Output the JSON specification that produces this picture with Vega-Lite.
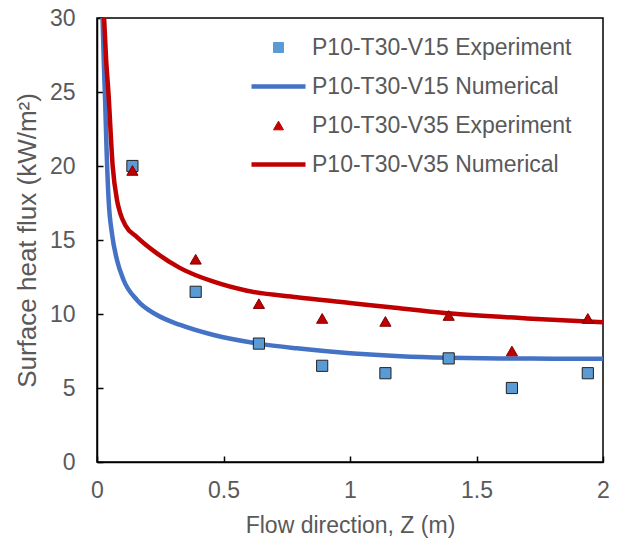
{
  "$schema": "https://vega.github.io/schema/vega-lite/v6.json",
  "autosize": {"type": "none"},
  "padding": {"left": 97, "top": 18, "right": 19, "bottom": 81},
  "width": 506,
  "height": 444,
  "background": "white",
  "config": {
    "font": "Liberation Sans",
    "view": {"stroke": "#000", "strokeWidth": 1.5},
    "axis": {
      "grid": false,
      "labelFlush": false,
      "labelOverlap": false,
      "domainColor": "#000",
      "domainWidth": 1.5,
      "tickColor": "#000",
      "tickWidth": 1.5,
      "tickSize": -6,
      "labelFont": "Liberation Sans",
      "labelFontSize": 23,
      "labelColor": "#595959",
      "titleFont": "Liberation Sans",
      "titleFontSize": 23,
      "titleFontWeight": "normal",
      "titleColor": "#595959"
    },
    "legend": {
      "labelFont": "Liberation Sans",
      "labelFontSize": 23,
      "labelColor": "#595959",
      "labelLimit": 400
    }
  },
  "data": {
    "values": [
      {"series": "P10-T30-V15 Experiment", "z": 0.14, "q": 20.0},
      {"series": "P10-T30-V15 Experiment", "z": 0.39, "q": 11.5},
      {"series": "P10-T30-V15 Experiment", "z": 0.64, "q": 8.0},
      {"series": "P10-T30-V15 Experiment", "z": 0.89, "q": 6.5},
      {"series": "P10-T30-V15 Experiment", "z": 1.14, "q": 6.0},
      {"series": "P10-T30-V15 Experiment", "z": 1.39, "q": 7.0},
      {"series": "P10-T30-V15 Experiment", "z": 1.64, "q": 5.0},
      {"series": "P10-T30-V15 Experiment", "z": 1.94, "q": 6.0},
      {"series": "P10-T30-V35 Experiment", "z": 0.14, "q": 19.7},
      {"series": "P10-T30-V35 Experiment", "z": 0.39, "q": 13.7},
      {"series": "P10-T30-V35 Experiment", "z": 0.64, "q": 10.7},
      {"series": "P10-T30-V35 Experiment", "z": 0.89, "q": 9.7},
      {"series": "P10-T30-V35 Experiment", "z": 1.14, "q": 9.5},
      {"series": "P10-T30-V35 Experiment", "z": 1.39, "q": 9.9},
      {"series": "P10-T30-V35 Experiment", "z": 1.64, "q": 7.5},
      {"series": "P10-T30-V35 Experiment", "z": 1.94, "q": 9.7},
      {"series": "P10-T30-V15 Numerical", "z": 0.022, "q": 30},
      {"series": "P10-T30-V15 Numerical", "z": 0.027, "q": 27},
      {"series": "P10-T30-V15 Numerical", "z": 0.032, "q": 24.5},
      {"series": "P10-T30-V15 Numerical", "z": 0.038, "q": 21},
      {"series": "P10-T30-V15 Numerical", "z": 0.046, "q": 17.7},
      {"series": "P10-T30-V15 Numerical", "z": 0.059, "q": 15.45},
      {"series": "P10-T30-V15 Numerical", "z": 0.079, "q": 13.65},
      {"series": "P10-T30-V15 Numerical", "z": 0.105, "q": 12.3},
      {"series": "P10-T30-V15 Numerical", "z": 0.158, "q": 10.95},
      {"series": "P10-T30-V15 Numerical", "z": 0.237, "q": 9.93},
      {"series": "P10-T30-V15 Numerical", "z": 0.329, "q": 9.26},
      {"series": "P10-T30-V15 Numerical", "z": 0.461, "q": 8.58},
      {"series": "P10-T30-V15 Numerical", "z": 0.638, "q": 8.0},
      {"series": "P10-T30-V15 Numerical", "z": 0.79, "q": 7.68},
      {"series": "P10-T30-V15 Numerical", "z": 1.0, "q": 7.35},
      {"series": "P10-T30-V15 Numerical", "z": 1.2, "q": 7.15},
      {"series": "P10-T30-V15 Numerical", "z": 1.39, "q": 7.05},
      {"series": "P10-T30-V15 Numerical", "z": 1.6, "q": 7.0},
      {"series": "P10-T30-V15 Numerical", "z": 1.8, "q": 6.98},
      {"series": "P10-T30-V15 Numerical", "z": 2.0, "q": 6.97},
      {"series": "P10-T30-V35 Numerical", "z": 0.028, "q": 30},
      {"series": "P10-T30-V35 Numerical", "z": 0.036, "q": 27.2},
      {"series": "P10-T30-V35 Numerical", "z": 0.045, "q": 25},
      {"series": "P10-T30-V35 Numerical", "z": 0.062, "q": 20},
      {"series": "P10-T30-V35 Numerical", "z": 0.079, "q": 17.7},
      {"series": "P10-T30-V35 Numerical", "z": 0.092, "q": 16.8},
      {"series": "P10-T30-V35 Numerical", "z": 0.112, "q": 16.0},
      {"series": "P10-T30-V35 Numerical", "z": 0.158, "q": 15.2},
      {"series": "P10-T30-V35 Numerical", "z": 0.237, "q": 14.1},
      {"series": "P10-T30-V35 Numerical", "z": 0.329, "q": 13.1},
      {"series": "P10-T30-V35 Numerical", "z": 0.461, "q": 12.18},
      {"series": "P10-T30-V35 Numerical", "z": 0.593, "q": 11.57},
      {"series": "P10-T30-V35 Numerical", "z": 0.79, "q": 11.13},
      {"series": "P10-T30-V35 Numerical", "z": 1.0, "q": 10.75},
      {"series": "P10-T30-V35 Numerical", "z": 1.16, "q": 10.45},
      {"series": "P10-T30-V35 Numerical", "z": 1.39, "q": 10.05},
      {"series": "P10-T30-V35 Numerical", "z": 1.7, "q": 9.7},
      {"series": "P10-T30-V35 Numerical", "z": 2.0, "q": 9.45}
    ]
  },
  "encoding": {
    "x": {
      "field": "z", "type": "quantitative",
      "scale": {"domain": [0, 2], "nice": false, "zero": true},
      "axis": {"title": "Flow direction, Z (m)", "values": [0, 0.5, 1, 1.5, 2], "format": "~g", "labelPadding": 23, "titlePadding": 12}
    },
    "y": {
      "field": "q", "type": "quantitative",
      "scale": {"domain": [0, 30], "nice": false},
      "axis": {"title": "Surface heat flux (kW/m²)", "titleFontSize": 26, "values": [0, 5, 10, 15, 20, 25, 30], "labelPadding": 28, "titlePadding": 9}
    },
    "color": {
      "field": "series", "type": "nominal",
      "scale": {
        "domain": ["P10-T30-V15 Experiment", "P10-T30-V15 Numerical", "P10-T30-V35 Experiment", "P10-T30-V35 Numerical"],
        "range": ["#5B9BD5", "#4472C4", "#C00000", "#C00000"]
      },
      "legend": {
        "title": null,
        "orient": "none",
        "legendX": 170,
        "legendY": 18,
        "padding": 0,
        "offset": 0,
        "symbolSize": 100,
        "rowPadding": 15,
        "labelOffset": 22,
        "symbolOpacity": 1
      }
    }
  },
  "layer": [
    {
      "transform": [{"filter": "indexof(datum.series, 'Numerical') >= 0"}],
      "mark": {"type": "line", "strokeWidth": 4.5, "interpolate": "monotone", "clip": true},
      "encoding": {"order": {"field": "z", "type": "quantitative"}}
    },
    {
      "transform": [{"filter": "indexof(datum.series, 'Experiment') >= 0"}],
      "mark": {"type": "point", "filled": true, "opacity": 1, "size": 125},
      "encoding": {
        "shape": {
          "field": "series", "type": "nominal",
          "scale": {
            "domain": ["P10-T30-V15 Experiment", "P10-T30-V15 Numerical", "P10-T30-V35 Experiment", "P10-T30-V35 Numerical"],
            "range": ["square", "M-5.4,0H5.4", "triangle-up", "M-5.4,0H5.4"]
          },
          "legend": {"title": null}
        },
        "stroke": {
          "field": "series", "type": "nominal",
          "scale": {
            "domain": ["P10-T30-V15 Experiment", "P10-T30-V15 Numerical", "P10-T30-V35 Experiment", "P10-T30-V35 Numerical"],
            "range": ["#222222", "#4472C4", "#7F0000", "#C00000"]
          },
          "legend": {"title": null}
        },
        "strokeWidth": {
          "field": "series", "type": "nominal",
          "scale": {
            "type": "ordinal",
            "domain": ["P10-T30-V15 Experiment", "P10-T30-V15 Numerical", "P10-T30-V35 Experiment", "P10-T30-V35 Numerical"],
            "range": [1, 4.5, 1, 4.5]
          },
          "legend": {"title": null}
        }
      }
    }
  ]
}
